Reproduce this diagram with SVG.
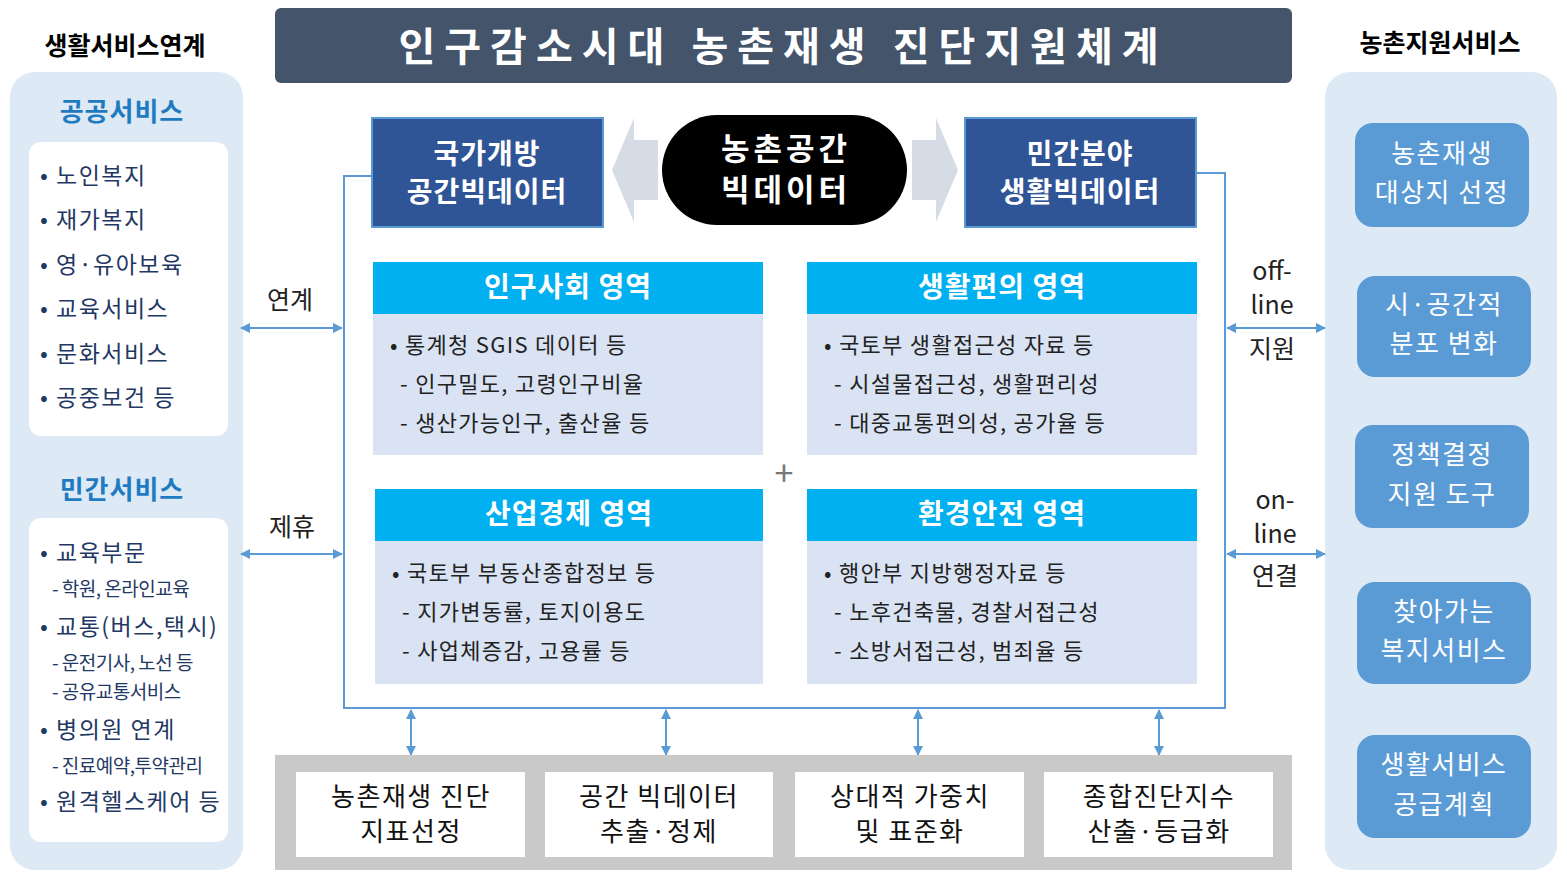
<svg xmlns="http://www.w3.org/2000/svg" width="1567" height="884" viewBox="0 0 1567 884">
<defs>
<style>
text{font-family:"Noto Sans CJK KR","Noto Sans",sans-serif;}
.hd{font-size:25px;font-weight:bold;fill:#000;text-anchor:middle}
.sec{font-size:26px;font-weight:bold;fill:#1f7bc1;text-anchor:middle;letter-spacing:1px}
.li{font-size:23px;fill:#1f3864;letter-spacing:1.5px}
.ls{font-size:19px;fill:#1f3864;letter-spacing:-0.5px}
.bw{font-size:28px;font-weight:bold;fill:#fff;text-anchor:middle;letter-spacing:1px}
.bt{font-size:22px;fill:#222;letter-spacing:1.3px}
.lab{font-size:25px;fill:#222;text-anchor:middle}
.btn{font-size:26px;fill:#fff;text-anchor:middle;letter-spacing:1.5px}
.bot{font-size:26px;fill:#111;text-anchor:middle;letter-spacing:1.5px}
.ctr{font-size:31px;font-weight:bold;fill:#fff;text-anchor:middle;letter-spacing:4px}
.ar{stroke:#5b9bd5;stroke-width:2;fill:none;marker-start:url(#ah);marker-end:url(#ah)}
</style>
<marker id="ah" viewBox="0 0 10 10" refX="9" refY="5" markerWidth="5" markerHeight="5" orient="auto-start-reverse"><path d="M0,0L10,5L0,10z" fill="#5b9bd5"/></marker>
</defs>
<rect width="1567" height="884" fill="#fff"/>
<g id="title"><rect x="275" y="8" width="1017" height="75" rx="6" fill="#44546a"/><text x="783" y="61" font-size="40" font-weight="bold" fill="#fff" text-anchor="middle" letter-spacing="9">인구감소시대 농촌재생 진단지원체계</text></g>
<g id="left-panel">
<text class="hd" x="125" y="55">생활서비스연계</text>
<rect x="10" y="72" width="233" height="798" rx="25" fill="#dde9f5"/>
<text class="sec" x="122" y="121">공공서비스</text>
<rect x="29" y="142" width="199" height="294" rx="12" fill="#fff"/>
<g class="li"><text x="40" y="184">• 노인복지</text><text x="40" y="228">• 재가복지</text><text x="40" y="273">• 영·유아보육</text><text x="40" y="317">• 교육서비스</text><text x="40" y="362">• 문화서비스</text><text x="40" y="406">• 공중보건 등</text></g>
<text class="sec" x="122" y="499">민간서비스</text>
<rect x="29" y="518" width="199" height="324" rx="12" fill="#fff"/>
<g><text class="li" x="40" y="561">• 교육부문</text><text class="ls" x="52" y="596">- 학원, 온라인교육</text><text class="li" x="40" y="635">• 교통(버스,택시)</text><text class="ls" x="52" y="670">- 운전기사, 노선 등</text><text class="ls" x="52" y="699">- 공유교통서비스</text><text class="li" x="40" y="738">• 병의원 연계</text><text class="ls" x="52" y="773">- 진료예약,투약관리</text><text class="li" x="40" y="810">• 원격헬스케어 등</text></g>
</g>
<g id="right-panel">
<text class="hd" x="1440" y="52">농촌지원서비스</text>
<rect x="1325" y="72" width="232" height="798" rx="25" fill="#dde9f5"/>
<g><rect x="1355" y="123" width="174" height="104" rx="18" fill="#5b9bd5"/><text class="btn" x="1442" y="163">농촌재생</text><text class="btn" x="1442" y="202">대상지 선정</text></g>
<g><rect x="1357" y="276" width="174" height="101" rx="18" fill="#5b9bd5"/><text class="btn" x="1444" y="314">시·공간적</text><text class="btn" x="1444" y="353">분포 변화</text></g>
<g><rect x="1355" y="425" width="174" height="103" rx="18" fill="#5b9bd5"/><text class="btn" x="1442" y="464">정책결정</text><text class="btn" x="1442" y="504">지원 도구</text></g>
<g><rect x="1357" y="582" width="174" height="102" rx="18" fill="#5b9bd5"/><text class="btn" x="1444" y="621">찾아가는</text><text class="btn" x="1444" y="660">복지서비스</text></g>
<g><rect x="1357" y="735" width="174" height="103" rx="18" fill="#5b9bd5"/><text class="btn" x="1444" y="774">생활서비스</text><text class="btn" x="1444" y="814">공급계획</text></g>
</g>
<g id="connectors">
<path d="M372,176H344V708H1225V173H1197" fill="none" stroke="#5b9bd5" stroke-width="2"/>
<polygon points="658,140 634,140 634,118 612,170 634,222 634,200 658,200" fill="#d6dce5"/>
<polygon points="912,140 936,140 936,118 958,170 936,222 936,200 912,200" fill="#d6dce5"/>
<line class="ar" x1="241" y1="328" x2="342" y2="328"/>
<line class="ar" x1="241" y1="554" x2="342" y2="554"/>
<line class="ar" x1="1227" y1="328" x2="1325" y2="328"/>
<line class="ar" x1="1227" y1="554" x2="1325" y2="554"/>
<line class="ar" x1="411" y1="710" x2="411" y2="755"/>
<line class="ar" x1="666" y1="710" x2="666" y2="755"/>
<line class="ar" x1="918" y1="710" x2="918" y2="755"/>
<line class="ar" x1="1159" y1="710" x2="1159" y2="755"/>
</g>
<g id="labels">
<text class="lab" x="290" y="309">연계</text><text class="lab" x="292" y="536">제휴</text>
<text class="lab" x="1272" y="280">off-</text><text class="lab" x="1272" y="314">line</text><text class="lab" x="1272" y="358">지원</text>
<text class="lab" x="1275" y="509">on-</text><text class="lab" x="1275" y="543">line</text><text class="lab" x="1275" y="585">연결</text>
<text x="784" y="486" font-size="34" fill="#777" text-anchor="middle">+</text>
</g>
<g id="node-national"><rect x="372" y="118" width="231" height="109" fill="#2f5597" stroke="#5b9bd5" stroke-width="2"/><text class="bw" x="487" y="164">국가개방</text><text class="bw" x="487" y="202">공간빅데이터</text></g>
<g id="node-center"><rect x="662" y="115" width="245" height="110" rx="55" fill="#000"/><text class="ctr" x="786" y="160">농촌공간</text><text class="ctr" x="786" y="201">빅데이터</text></g>
<g id="node-private"><rect x="965" y="118" width="231" height="109" fill="#2f5597" stroke="#5b9bd5" stroke-width="2"/><text class="bw" x="1080" y="164">민간분야</text><text class="bw" x="1080" y="202">생활빅데이터</text></g>
<g id="node-pop"><rect x="373" y="262" width="390" height="52" fill="#00b0f0"/><rect x="373" y="314" width="390" height="141" fill="#dae3f3"/><text class="bw" x="568" y="297">인구사회 영역</text>
<text class="bt" x="390" y="353">• 통계청 SGIS 데이터  등</text><text class="bt" x="400" y="392">- 인구밀도, 고령인구비율</text><text class="bt" x="400" y="431">- 생산가능인구, 출산율 등</text></g>
<g id="node-life"><rect x="807" y="262" width="390" height="52" fill="#00b0f0"/><rect x="807" y="314" width="390" height="141" fill="#dae3f3"/><text class="bw" x="1002" y="297">생활편의 영역</text>
<text class="bt" x="824" y="353">• 국토부 생활접근성 자료 등</text><text class="bt" x="834" y="392">- 시설물접근성, 생활편리성</text><text class="bt" x="834" y="431">- 대중교통편의성, 공가율 등</text></g>
<g id="node-econ"><rect x="375" y="489" width="388" height="52" fill="#00b0f0"/><rect x="375" y="541" width="388" height="143" fill="#dae3f3"/><text class="bw" x="569" y="524">산업경제 영역</text>
<text class="bt" x="392" y="581">• 국토부 부동산종합정보 등</text><text class="bt" x="402" y="620">- 지가변동률, 토지이용도</text><text class="bt" x="402" y="659">- 사업체증감, 고용률 등</text></g>
<g id="node-env"><rect x="807" y="489" width="390" height="52" fill="#00b0f0"/><rect x="807" y="541" width="390" height="143" fill="#dae3f3"/><text class="bw" x="1002" y="524">환경안전 영역</text>
<text class="bt" x="824" y="581">• 행안부 지방행정자료 등</text><text class="bt" x="834" y="620">- 노후건축물, 경찰서접근성</text><text class="bt" x="834" y="659">- 소방서접근성, 범죄율 등</text></g>
<g id="bottom"><rect x="275" y="755" width="1017" height="115" fill="#c9c9c9"/>
<g><rect x="296" y="772" width="229" height="85" fill="#fff"/><text class="bot" x="411" y="806">농촌재생 진단</text><text class="bot" x="411" y="841">지표선정</text></g>
<g><rect x="545" y="772" width="228" height="85" fill="#fff"/><text class="bot" x="659" y="806">공간 빅데이터</text><text class="bot" x="659" y="841">추출·정제</text></g>
<g><rect x="795" y="772" width="229" height="85" fill="#fff"/><text class="bot" x="910" y="806">상대적 가중치</text><text class="bot" x="910" y="841">및 표준화</text></g>
<g><rect x="1044" y="772" width="229" height="85" fill="#fff"/><text class="bot" x="1159" y="806">종합진단지수</text><text class="bot" x="1159" y="841">산출·등급화</text></g>
</g>
</svg>
